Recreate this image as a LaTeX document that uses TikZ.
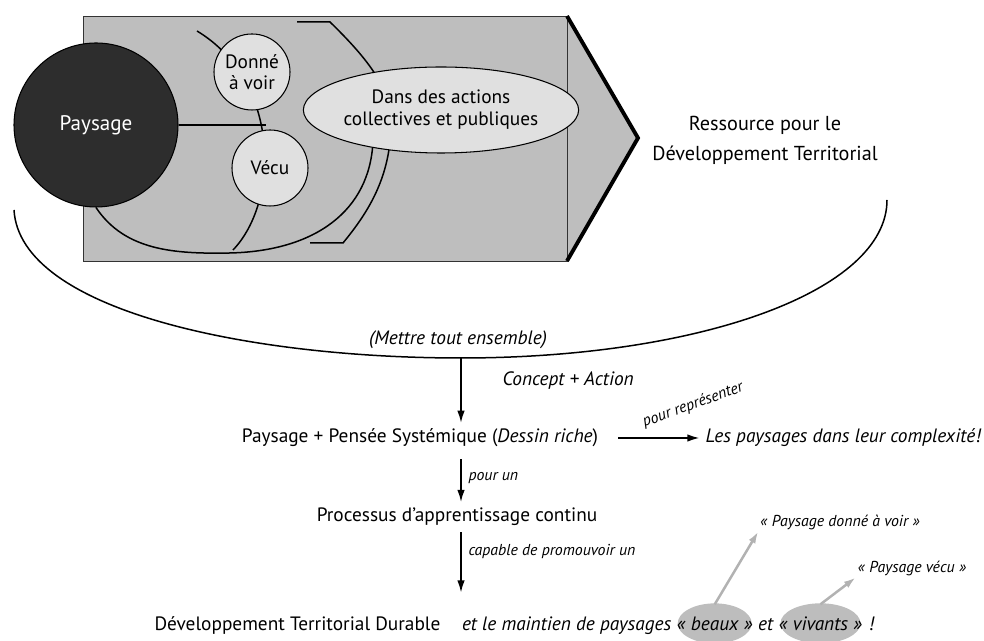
\documentclass[tikz,border=0pt]{standalone}
\usepackage{fontspec}
\setmainfont{PT Sans}
\usepackage{tikz}
\usepackage{xcolor}
\usetikzlibrary{arrows.meta, calc, positioning, shapes.geometric, backgrounds}
\definecolor{fondgris}{HTML}{BEBEBE}
\definecolor{paysnoir}{HTML}{2D2D2D}
\definecolor{bullegris}{HTML}{E0E0E0}
\definecolor{ovalgris}{HTML}{BDBDBD}
\definecolor{flechegris}{HTML}{B2B2B2}
\tikzset{
  % trait fin des courbes
  trait/.style={
    line width = 0.3mm
  },
  % fleche du schema
  fleche/.style={
    line width = 0.3mm
    , >={Latex[length=2.4mm,width=1.5mm]}
    , ->
  },
}
\tikzset{
  % cercles du cadre
  bulle/.style={
    draw
    , fill=bullegris
    , circle
    , line width=0.6pt
    , minimum size=1.52cm
    , inner sep=0pt
    , align=center
    , font=\fontsize{11}{12}\selectfont
  },
  % texte des etapes
  etape/.style={
    anchor=center
    , font=\fontsize{11}{13}\selectfont
  },
  etapeit/.style={
    etape
    , font=\fontsize{11}{13}\selectfont\itshape
  },
  % petites legendes
  legende/.style={
    font=\fontsize{9}{10}\selectfont\itshape
    , inner sep=1pt
  },
}

\begin{document}
\begin{tikzpicture}[node distance=1.58cm]
      \useasboundingbox (0,0) rectangle (19.68,12.82);

      % elements du cadre
      \node[bulle, fill=paysnoir, text=white, minimum size=3.28cm, font=\fontsize{12}{13}\selectfont] (paysage) at (1.92,10.32) {Paysage};
      \node[bulle] (donne) at (5.04,11.38) {Donné\\à voir};
      \node[bulle] (vecu) at (5.40,9.46) {Vécu};
      \node[draw, ellipse, fill=bullegris, line width=0.6pt, minimum width=4.04cm, minimum height=1.72cm,
            inner sep=0pt, align=center, font=\fontsize{11}{12.5}\selectfont] (actions) at (8.82,10.62)
            {Dans des actions\\collectives et publiques};
      \coordinate (jonction) at (5.32,10.32);

      \node[etape, align=center, font=\fontsize{11.5}{17}\selectfont] (ressource) at (15.3,10.02)
            {Ressource pour le\\Développement Territorial};

      % chaine du bas
      \coordinate (bas) at (9.22,5.66);
      \node[etapeit] (ensemble) at (9.16,6.02) {(Mettre tout ensemble)};
      \node[etape] (systeme) at (8.4,4.06) {Paysage + Pensée Systémique (\textit{Dessin riche})};
      \node[etapeit, right=1.9cm of systeme] (complexite) {Les paysages dans leur complexité!};
      \node[etape, below of=systeme, xshift=0.74cm] (processus) {Processus d’apprentissage continu};
      \node[etape, below of=processus, xshift=-3.19cm, yshift=-0.58cm] (durable) {Développement Territorial Durable};
      \node[etapeit, anchor=base west, inner sep=0pt] (maintien) at ([xshift=0.3cm]durable.base east) {et le maintien de paysages};
      \node[etapeit, anchor=base west, inner sep=0pt] (beaux) at ([xshift=0.1cm]maintien.base east) {«~beaux~»};
      \node[etapeit, anchor=base west, inner sep=0pt] (et) at ([xshift=0.1cm]beaux.base east) {et};
      \node[etapeit, anchor=base west, inner sep=0pt] (vivants) at ([xshift=0.1cm]et.base east) {«~vivants~»};
      \node[etapeit, anchor=base west, inner sep=0pt] (exclam) at ([xshift=0.12cm]vivants.base east) {!};

      \node[legende] (donnelbl) at (16.8,2.38) {«~Paysage donné à voir~»};
      \node[legende] (vecuelbl) at (18.24,1.46) {«~Paysage vécu~»};
      \coordinate (beauxhaut) at ([yshift=0.38cm]beaux.center);
      \coordinate (vivantshaut) at ([yshift=0.38cm]vivants.center);

      \begin{scope}[on background layer]
        % cadre gris et pointe
        \fill[fondgris] (11.34,12.5) -- (12.76,10.06) -- (11.34,7.6) -- cycle;
        \draw[fill=fondgris, line width=0.5pt, draw=black!80] (1.66,7.6) rectangle (11.34,12.5);
        \draw[line width=2.2pt] (11.34,12.5) -- (12.76,10.06) -- (11.34,7.6);
        % courbes du cadre
        \draw[trait] (3.94,12.2) .. controls (5.6,11.2) and (5.6,8.8) .. (4.66,7.82);
        \draw[trait] (paysage.south) .. controls (2.5,7.8) and (3.5,7.74) .. (4.6,7.76)
              .. controls (6.3,7.8) and (7.4,8.6) .. (7.46,10.0);
        \draw[trait] (5.94,12.38) -- (6.6,12.38) .. controls (7.4,11.6) and (7.85,11.0) .. (7.82,10.3)
              .. controls (7.8,9.2) and (7.3,8.5) .. (6.86,7.96) -- (6.2,7.96);
        \draw[trait] (paysage.east) -- (jonction);
        % ovales gris
        \fill[ovalgris] (beaux.center) ellipse [x radius=0.74cm, y radius=0.4cm];
        \fill[ovalgris] (vivants.center) ellipse [x radius=0.8cm, y radius=0.4cm];
      \end{scope}

      % grand arc
      \draw[trait] (0.28,8.62) .. controls (0.4,6.6) and (5.0,5.66) .. (bas)
            .. controls (14,5.66) and (17.74,7.0) .. (17.74,8.82);

      \draw[fleche] (bas) -- (bas |- systeme.north) node[etapeit, pos=0.35, anchor=west, xshift=0.7cm] (concept) {Concept + Action};
      \draw[fleche] ([xshift=0.28cm]systeme.east) -- (complexite.west);
      \node[legende, rotate=20] (pourrep) at (13.86,4.72) {pour représenter};
      \draw[fleche, shorten <=0.12cm] (bas |- systeme.south) -- (bas |- processus.north) node[legende, midway, right=0.1cm] (pourun) {pour un};
      \draw[fleche, shorten >=0.35cm] (bas |- processus.south) -- (bas |- durable.north) node[legende, pos=0.25, right=0.1cm] (capable) {capable de promouvoir un};

      \draw[fleche, draw=flechegris, line width=0.5mm] (beauxhaut) -- (donnelbl.south west);
      \draw[fleche, draw=flechegris, line width=0.5mm] (vivantshaut) -- (vecuelbl.south west);
    \end{tikzpicture}
\end{document}
